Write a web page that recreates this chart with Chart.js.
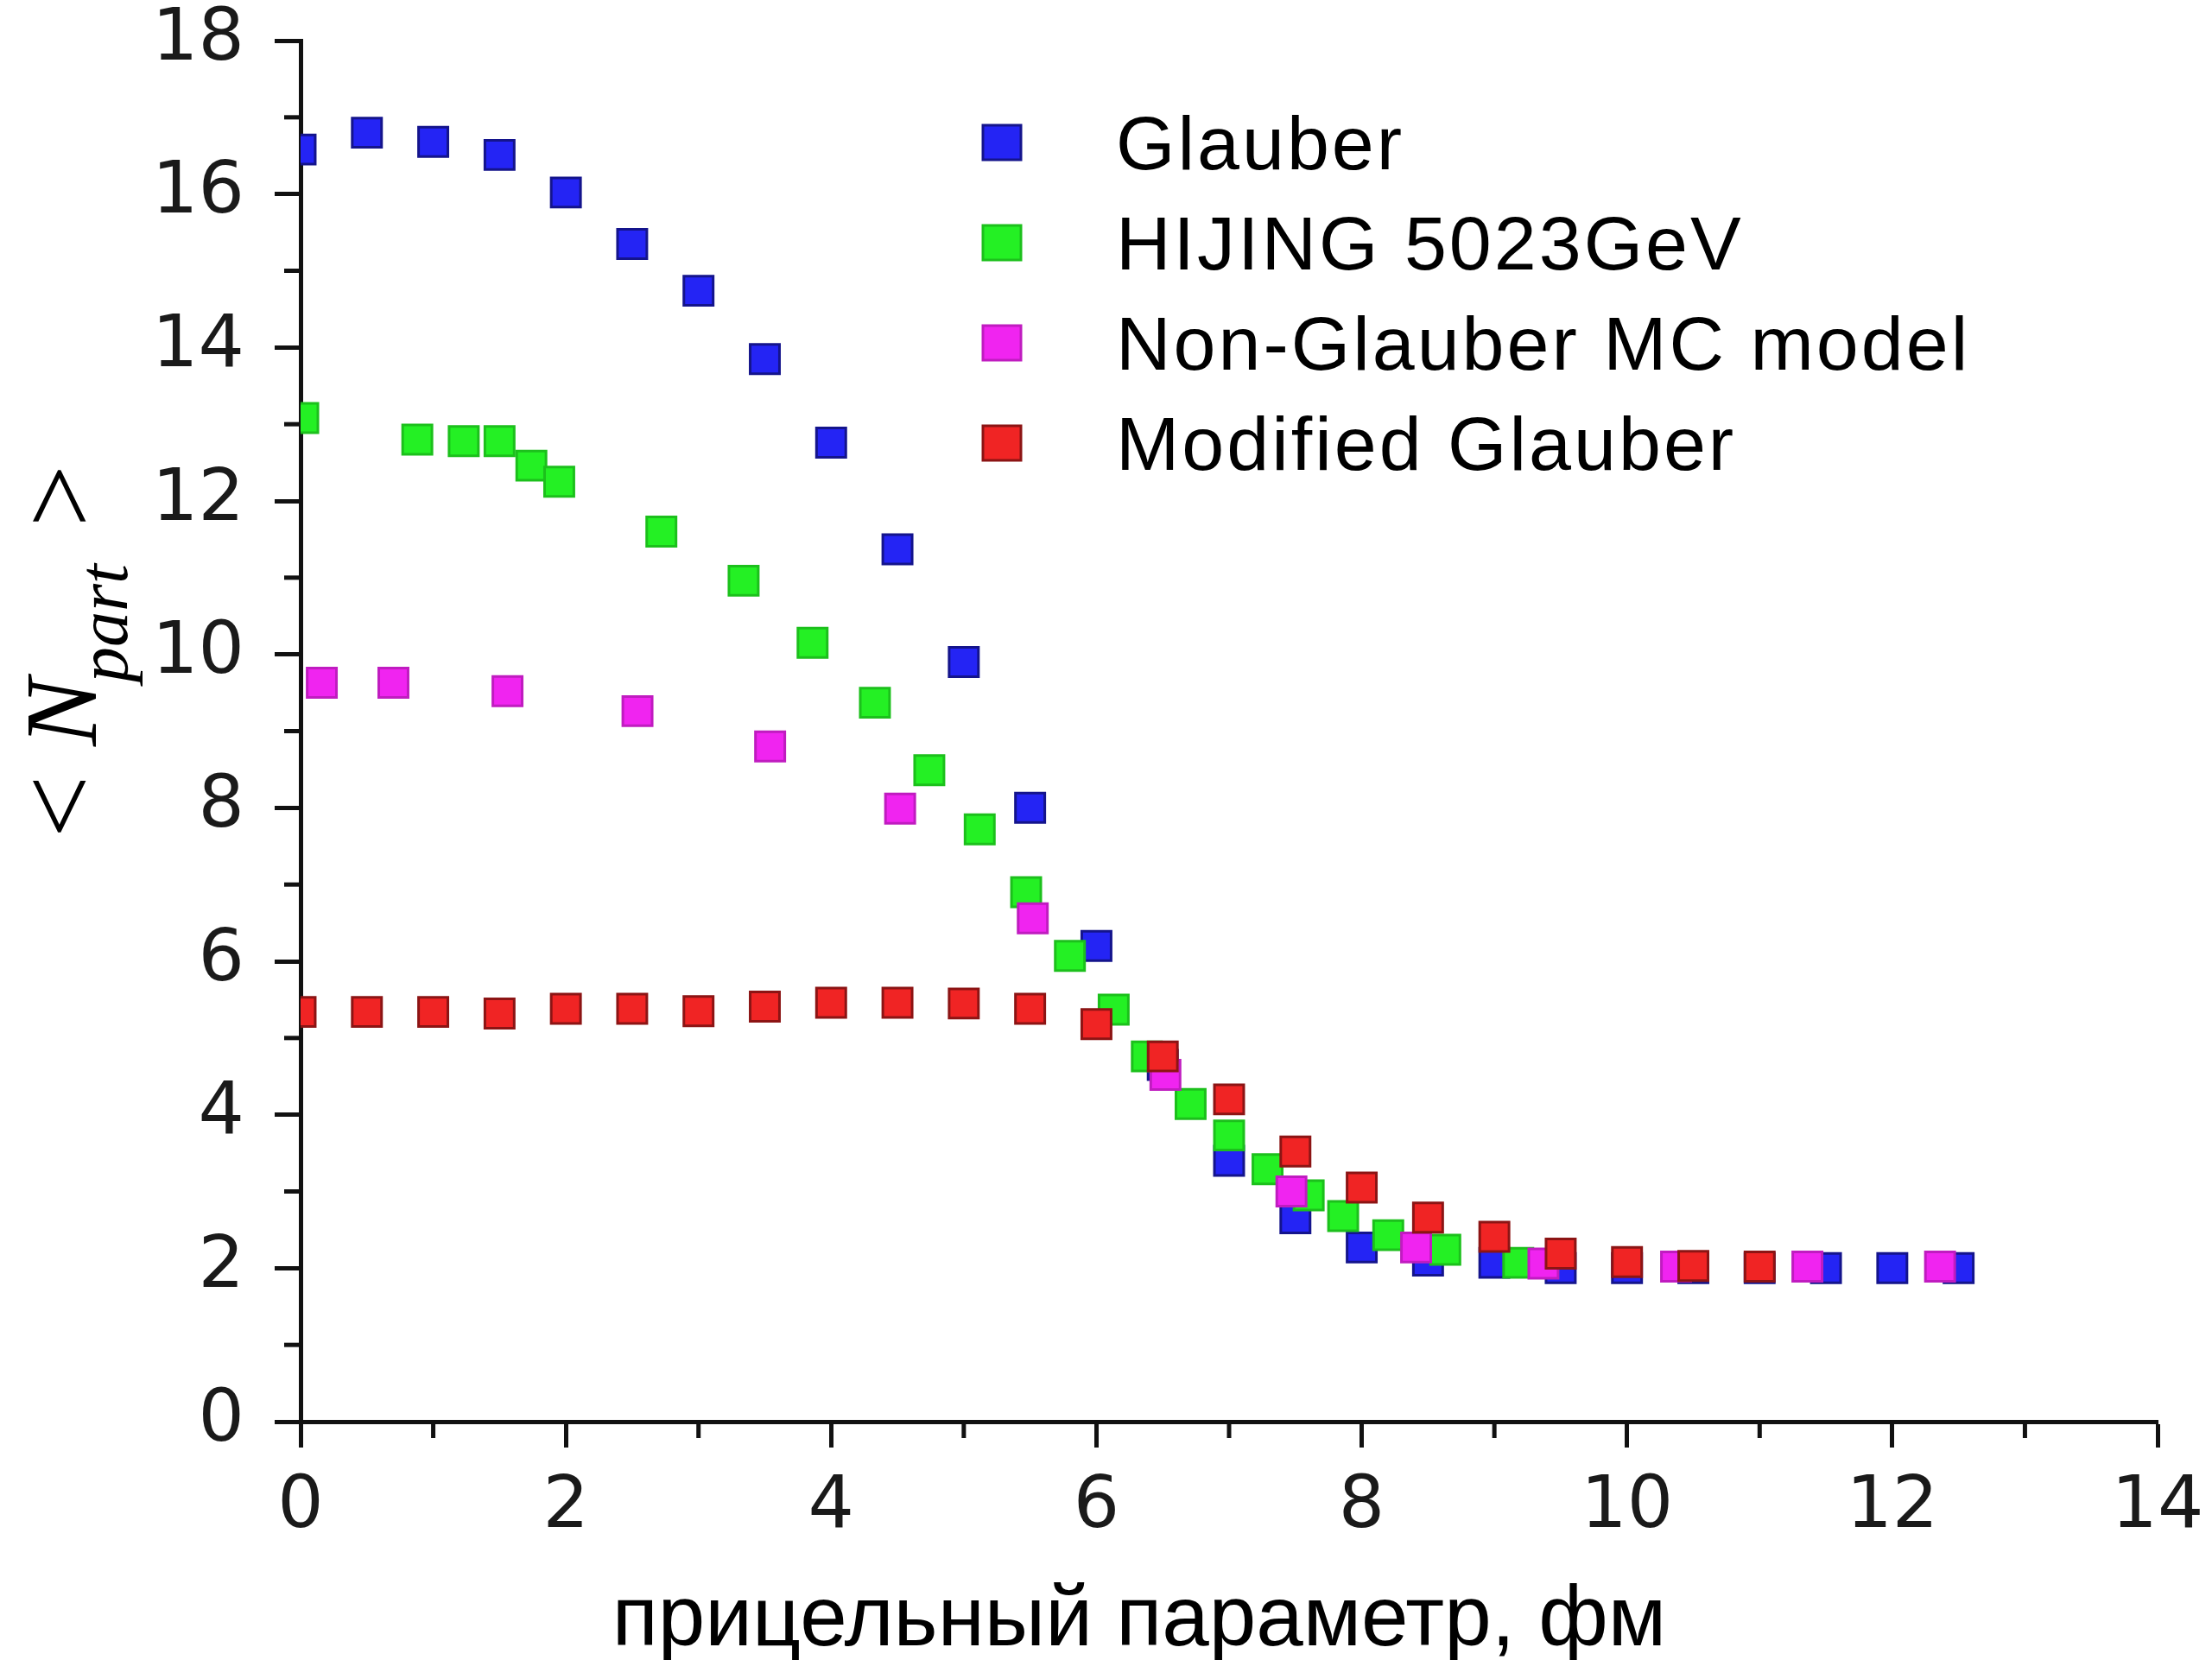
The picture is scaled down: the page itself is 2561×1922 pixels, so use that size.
<!DOCTYPE html>
<html>
<head>
<meta charset="utf-8">
<script src="https://cdn.jsdelivr.net/npm/chart.js@4.4.0/dist/chart.umd.min.js"></script>
<style>
  html, body { margin: 0; padding: 0; background: #fff; }
  #wrap { width: 2561px; height: 1922px; }
</style>
</head>
<body>
<div id="wrap"><canvas id="chart" width="2561" height="1922"></canvas></div>
<script>
// impact parameter b (fm) and <Npart>
const glauberB = [0, 0.5, 1, 1.5, 2, 2.5, 3, 3.5, 4, 4.5, 5, 5.5, 6, 6.5, 7, 7.5, 8, 8.5, 9, 9.5, 10, 10.5, 11, 11.5, 12, 12.5];
const glauberN = [16.58, 16.8, 16.68, 16.51, 16.02, 15.35, 14.74, 13.85, 12.76, 11.37, 9.9, 8.0, 6.2, 4.65, 3.4, 2.65, 2.27, 2.1, 2.07, 2.0, 2.0, 2.0, 2.0, 2.0, 2.0, 2.0];

const hijingB = [0.02, 0.88, 1.23, 1.5, 1.74, 1.95, 2.72, 3.34, 3.86, 4.33, 4.74, 5.12, 5.47, 5.8, 6.13, 6.38, 6.71, 7.0, 7.29, 7.6, 7.86, 8.2, 8.63, 9.18];
const hijingN = [13.08, 12.8, 12.78, 12.78, 12.46, 12.25, 11.6, 10.96, 10.15, 9.37, 8.49, 7.72, 6.9, 6.07, 5.37, 4.76, 4.14, 3.73, 3.29, 2.95, 2.68, 2.43, 2.24, 2.07];

const nonGlauberB = [0.16, 0.7, 1.56, 2.54, 3.54, 4.52, 5.52, 6.52, 7.47, 8.41, 9.37, 10.37, 11.36, 12.36];
const nonGlauberN = [9.63, 9.63, 9.52, 9.26, 8.8, 7.99, 6.56, 4.52, 3.0, 2.27, 2.06, 2.02, 2.02, 2.02];

const modGlauberB = [0, 0.5, 1, 1.5, 2, 2.5, 3, 3.5, 4, 4.5, 5, 5.5, 6, 6.5, 7, 7.5, 8, 8.5, 9, 9.5, 10, 10.5, 11];
const modGlauberN = [5.34, 5.34, 5.34, 5.32, 5.38, 5.38, 5.35, 5.41, 5.46, 5.46, 5.45, 5.38, 5.18, 4.76, 4.2, 3.52, 3.05, 2.66, 2.41, 2.19, 2.08, 2.03, 2.02];

const seriesNames = ['Glauber', 'HIJING 5023GeV', 'Non-Glauber MC model', 'Modified Glauber'];
const fillColors = ['#2424f4', '#24f024', '#f024f0', '#f02424'];
const edgeColors = ['#14148c', '#1cc01c', '#c01cc0', '#8c1414'];

const xTitle = 'прицельный параметр, фм';

function points(xs, ys) {
    return xs.map((b, i) => ({ x: b, y: ys[i] }));
}

function makeSet(i, xs, ys, order) {
    return {
        label: seriesNames[i],
        data: points(xs, ys),
        pointStyle: 'rect',
        pointRadius: 24,
        backgroundColor: fillColors[i],
        borderColor: edgeColors[i],
        borderWidth: 3,
        showLine: false,
        clip: 0,
        order: order
    };
}

// minor ticks, axis titles and the legend drawn on top
const decorations = {
    id: 'decorations',
    afterDraw(chart) {
        const ctx = chart.ctx;
        const xs = chart.scales.x;
        const ys = chart.scales.y;
        const area = chart.chartArea;
        ctx.save();

        // short ticks at odd values
        ctx.strokeStyle = '#111';
        ctx.lineWidth = 5;
        xs.ticks.forEach(t => {
            if (t.value % 2 === 0) return;
            const px = xs.getPixelForValue(t.value);
            ctx.beginPath();
            ctx.moveTo(px, area.bottom);
            ctx.lineTo(px, area.bottom + 19);
            ctx.stroke();
        });
        ys.ticks.forEach(t => {
            if (t.value % 2 === 0) return;
            const py = ys.getPixelForValue(t.value);
            ctx.beginPath();
            ctx.moveTo(area.left, py);
            ctx.lineTo(area.left - 19, py);
            ctx.stroke();
        });

        // x title
        ctx.fillStyle = '#000';
        ctx.font = '98px "Liberation Sans", Arial, sans-serif';
        ctx.textAlign = 'center';
        ctx.textBaseline = 'alphabetic';
        ctx.fillText(xTitle, 1319, 1905);

        // y title: < N_part >
        ctx.save();
        ctx.translate(111, 754);
        ctx.rotate(-Math.PI / 2);
        ctx.textBaseline = 'alphabetic';
        ctx.textAlign = 'left';
        ctx.font = '128px "Liberation Serif", serif';
        ctx.fillText('<', -216, 0);
        ctx.font = 'italic 118px "Liberation Serif", serif';
        ctx.fillText('N', -110, 0);
        ctx.font = 'italic 82px "Liberation Serif", serif';
        ctx.fillText('part', -36, 36);
        ctx.textAlign = 'right';
        ctx.font = '128px "Liberation Serif", serif';
        ctx.fillText('>', 216, 0);
        ctx.restore();

        // legend
        ctx.font = '88px "Liberation Sans", Arial, sans-serif';
        ctx.textAlign = 'left';
        ctx.letterSpacing = '3px';
        seriesNames.forEach((name, i) => {
            const cy = 165 + i * 116;
            ctx.fillStyle = fillColors[i];
            ctx.strokeStyle = edgeColors[i];
            ctx.lineWidth = 3;
            ctx.fillRect(1138, cy - 20, 44, 40);
            ctx.strokeRect(1138, cy - 20, 44, 40);
            ctx.fillStyle = '#000';
            ctx.fillText(name, 1292, cy + 31);
        });
        ctx.restore();
    }
};

const tickFont = { family: 'DejaVu Sans', size: 84, lineHeight: 1 };
const tickColor = c => (c.tick && c.tick.value % 2 === 0) ? '#111' : 'rgba(0,0,0,0)';

new Chart(document.getElementById('chart').getContext('2d'), {
    type: 'scatter',
    data: {
        datasets: [
            makeSet(0, glauberB, glauberN, 4),
            makeSet(1, hijingB, hijingN, 3),
            makeSet(2, nonGlauberB, nonGlauberN, 2),
            makeSet(3, modGlauberB, modGlauberN, 1)
        ]
    },
    options: {
        responsive: false,
        animation: false,
        events: [],
        layout: { padding: { top: 47, right: 63, left: 0, bottom: 0 } },
        plugins: {
            legend: { display: false },
            tooltip: { enabled: false }
        },
        scales: {
            x: {
                type: 'linear',
                min: 0,
                max: 14,
                z: 1,
                afterFit: s => {
                    s.height = 276;
                    s.paddingLeft = 0;
                    s.paddingRight = 0;
                },
                border: { color: '#111', width: 5 },
                grid: { drawOnChartArea: false, tickLength: 30, tickWidth: 5, tickColor: tickColor },
                ticks: {
                    stepSize: 1, autoSkip: false, maxRotation: 0, padding: 28,
                    font: tickFont, color: '#1a1a1a',
                    callback: v => v % 2 === 0 ? v : ''
                }
            },
            y: {
                type: 'linear',
                min: 0,
                max: 18,
                z: 1,
                afterFit: s => {
                    s.width = 348;
                    s.paddingTop = 0;
                    s.paddingBottom = 0;
                },
                border: { color: '#111', width: 5 },
                grid: { drawOnChartArea: false, tickLength: 30, tickWidth: 5, tickColor: tickColor },
                ticks: {
                    stepSize: 1, autoSkip: false, padding: 35,
                    font: tickFont, color: '#1a1a1a',
                    callback: v => v % 2 === 0 ? v : ''
                }
            }
        }
    },
    plugins: [decorations]
});
</script>
</body>
</html>
